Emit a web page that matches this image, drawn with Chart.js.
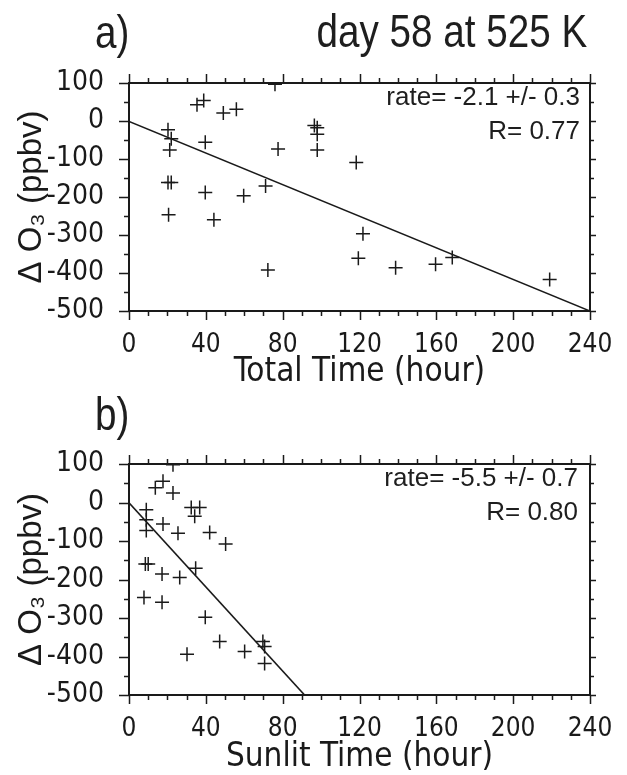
<!DOCTYPE html>
<html>
<head>
<meta charset="utf-8">
<script src="https://cdn.jsdelivr.net/npm/chart.js@4.4.1/dist/chart.umd.min.js"></script>
<style>
html,body{margin:0;padding:0;background:#fff;width:627px;height:775px;overflow:hidden;position:relative;}
.wrap{position:absolute;left:0;width:627px;}
.lbl{position:absolute;font-family:'Liberation Sans',Arial,sans-serif;color:#1e1e1e;white-space:nowrap;line-height:1;}
.big{font-size:46px;transform:scaleX(0.84);}
.left{transform-origin:left top;}
.right{transform-origin:right top;}
.ann{font-size:26px;text-align:right;}
</style>
</head>
<body>
<div class="wrap" style="top:0;height:405px"><canvas id="ca" width="627" height="405"></canvas></div>
<div class="wrap" style="top:380px;height:410px"><canvas id="cb" width="627" height="410"></canvas></div>

<div class="lbl big left" style="left:95px;top:9px">a)</div>
<div class="lbl big right" style="right:40px;top:8px">day 58 at 525 K</div>
<div class="lbl ann" style="right:47px;top:83px">rate= -2.1 +/- 0.3</div>
<div class="lbl ann" style="right:47px;top:117px">R= 0.77</div>

<div class="lbl big left" style="left:95px;top:391px">b)</div>
<div class="lbl ann" style="right:49px;top:464px">rate= -5.5 +/- 0.7</div>
<div class="lbl ann" style="right:49px;top:498px">R= 0.80</div>

<script>
// ---- data ----
const totalTime = [20.3, 22.0, 21.2, 20.3, 22.0, 20.6, 35.4, 38.9, 39.7, 39.7, 44.2, 49.1, 55.9, 59.7, 71.1, 72.3, 77.6, 96.5, 98.0, 98.0, 98.0, 118.3, 121.8, 119.4, 138.8, 159.6, 168.3, 219.0, 76.0];
const dO3Total  = [-23, -47, -76, -162, -162, -247, 43, 54, -56, -188, -260, 21, 31, -197, -171, -392, -74, -12, -18, -35, -76, -109, -297, -361, -386, -377, -359, -417, 97];
const fitTotalX = [0, 240];
const fitTotalY = [-1, -500];

const sunlitTime = [13.7, 17.7, 22.9, 9.0, 9.0, 9.0, 17.7, 25.5, 32.4, 36.8, 34.2, 42.0, 50.3, 8.5, 10.0, 17.2, 26.4, 34.7, 7.8, 17.2, 39.7, 47.2, 30.2, 60.2, 69.7, 70.6, 70.6, 22.9];
const dO3Sunlit  = [38, 55, 25, -19, -45, -73, -56, -80, -13, -13, -36, -78, -108, -160, -160, -186, -195, -171, -247, -259, -298, -361, -394, -387, -361, -374, -418, 98];
const fitSunlitX = [0, 91.4];
const fitSunlitY = [-1, -500];

const xTickValues = [0, 40, 80, 120, 160, 200, 240];
const yTickValues = [100, 0, -100, -200, -300, -400, -500];
const xMinorStep = 10, yMinorStep = 50;

// ---- styling ----
const INK = '#1a1a1a';
const NARROW = "'Liberation Sans Narrow','DejaVu Sans Condensed','Arial Narrow',sans-serif";
const REG = "'Liberation Sans',Arial,sans-serif";

const frameTicks = {
  id: 'frameTicks',
  afterDraw(chart) {
    const {ctx, chartArea: {left, right, top, bottom}, scales: {x, y}} = chart;
    ctx.save();
    ctx.strokeStyle = INK;
    ctx.lineWidth = 2;
    ctx.strokeRect(left, top, right - left, bottom - top);
    ctx.lineWidth = 1.5;
    ctx.beginPath();
    for (let v = y.min; v <= y.max + 1e-6; v += yMinorStep) {
      const p = Math.round(y.getPixelForValue(v)) + 0.5;
      const major = yTickValues.includes(v);
      const L = major ? 10 : 5;
      ctx.moveTo(left - L, p); ctx.lineTo(left, p);
      ctx.moveTo(right, p); ctx.lineTo(right + (major ? 6 : 4), p);
    }
    for (let v = x.min; v <= x.max + 1e-6; v += xMinorStep) {
      const p = Math.round(x.getPixelForValue(v)) + 0.5;
      const major = xTickValues.includes(v);
      const L = major ? 9 : 5;
      ctx.moveTo(p, top - L); ctx.lineTo(p, top);
      ctx.moveTo(p, bottom); ctx.lineTo(p, bottom + L);
    }
    ctx.stroke();
    ctx.restore();
  }
};

function makeChart(id, xs, ys, fx, fy, xTitle, padTop, plotBottomFromCanvasBottom) {
  const pts = xs.map((v, i) => ({x: v, y: ys[i]}));
  const fit = fx.map((v, i) => ({x: v, y: fy[i]}));
  return new Chart(document.getElementById(id), {
    type: 'scatter',
    data: {
      datasets: [
        {
          data: pts,
          pointStyle: 'cross',
          pointRadius: 7,
          pointHoverRadius: 7,
          borderColor: INK,
          backgroundColor: INK,
          pointBorderWidth: 1.5,
          borderWidth: 1.5
        },
        {
          type: 'line',
          data: fit,
          borderColor: INK,
          borderWidth: 1.6,
          pointRadius: 0,
          fill: false,
          tension: 0
        }
      ]
    },
    options: {
      responsive: false,
      animation: false,
      events: [],
      layout: {padding: {top: padTop, right: 37, left: 0, bottom: 0}},
      plugins: {legend: {display: false}, tooltip: {enabled: false}},
      scales: {
        x: {
          type: 'linear', min: 0, max: 240,
          afterBuildTicks: s => { s.ticks = xTickValues.map(v => ({value: v})); },
          ticks: {color: INK, font: {family: NARROW, size: 26}, padding: 11, maxRotation: 0, autoSkip: false},
          grid: {display: false},
          border: {display: false},
          title: {display: true, text: xTitle, color: INK, font: {family: NARROW, size: 33}, padding: {top: 0, bottom: 13}},
          afterFit: s => { s.height = plotBottomFromCanvasBottom; }
        },
        y: {
          type: 'linear', min: -500, max: 100,
          afterBuildTicks: s => { s.ticks = yTickValues.map(v => ({value: v})); },
          ticks: {color: INK, font: {family: NARROW, size: 28}, padding: 17, autoSkip: false},
          grid: {display: false},
          border: {display: false},
          title: {display: true, text: 'Δ O₃ (ppbv)', color: INK, font: {family: REG, size: 33}, padding: {top: 12, bottom: 0}},
          afterFit: s => { s.width = 129; }
        }
      }
    },
    plugins: [frameTicks]
  });
}

makeChart('ca', totalTime, dO3Total, fitTotalX, fitTotalY, 'Total Time (hour)', 83, 94);
makeChart('cb', sunlitTime, dO3Sunlit, fitSunlitX, fitSunlitY, 'Sunlit Time (hour)', 84, 95);
</script>
</body>
</html>
